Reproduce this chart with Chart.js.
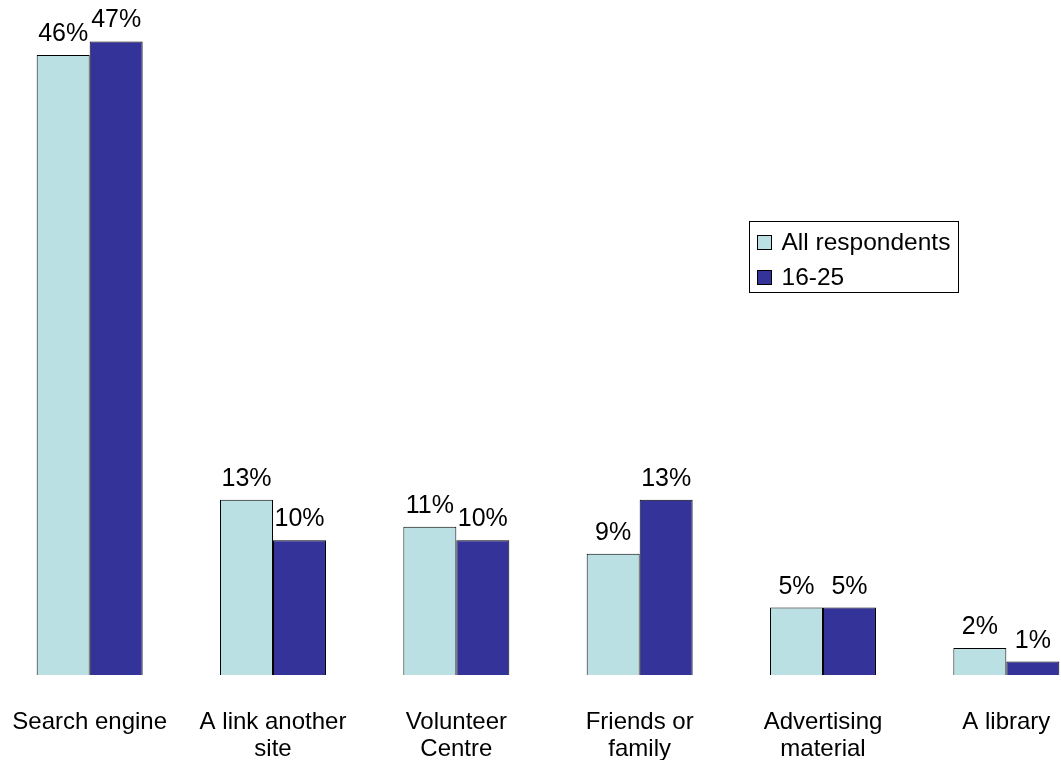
<!DOCTYPE html>
<html>
<head>
<meta charset="utf-8">
<script src="https://cdn.jsdelivr.net/npm/chart.js@4"></script>
<style>
  html, body { margin: 0; padding: 0; background: #fff; overflow: hidden; }
  #wrap { position: absolute; left: -2px; top: 0; width: 1100px; height: 760px; }
</style>
</head>
<body>
<div id="wrap"><canvas id="myChart" width="1100" height="760"></canvas></div>
<script>
// Data
const categories = [
  "Search engine",
  ["A link another", "site"],
  ["Volunteer", "Centre"],
  ["Friends or", "family"],
  ["Advertising", "material"],
  "A library",
];
const allRespondents = [46, 13, 11, 9, 5, 2];
const youngPeople = [47, 10, 10, 13, 5, 1];
const seriesNames = ["All respondents", "16-25"];
const seriesColors = ["#BBE0E3", "#333399"];

const FONT = "'Liberation Sans', Arial, Helvetica, sans-serif";

// value labels above the bars
const valueLabels = {
  id: "valueLabels",
  afterDatasetsDraw(chart) {
    const c = chart.ctx;
    c.save();
    c.font = `25px ${FONT}`;
    c.fillStyle = "#000";
    c.textAlign = "center";
    c.textBaseline = "alphabetic";
    chart.data.datasets.forEach((ds, d) => {
      chart.getDatasetMeta(d).data.forEach((bar, k) => {
        c.fillText(ds.data[k] + "%", bar.x, bar.y - 14);
      });
    });
    c.restore();
  },
};

// boxed legend on the right
const boxLegend = {
  id: "boxLegend",
  afterDraw(chart) {
    const c = chart.ctx;
    const x = 751.5, y = 221.5;
    c.save();
    c.strokeStyle = "#000";
    c.lineWidth = 1;
    c.strokeRect(x, y, 209, 71);
    c.font = `24.5px ${FONT}`;
    c.textBaseline = "alphabetic";
    chart.data.datasets.forEach((ds, d) => {
      const sy = y + 14 + d * 35;
      c.fillStyle = ds.backgroundColor;
      c.fillRect(x + 8, sy, 14, 14);
      c.strokeRect(x + 8, sy, 14, 14);
      c.fillStyle = "#000";
      c.fillText(ds.label, x + 32, sy + 14);
    });
    c.restore();
  },
};

const ctx = document.getElementById("myChart");

new Chart(ctx, {
  type: "bar",
  data: {
    labels: categories,
    datasets: [
      {
        label: seriesNames[0],
        data: allRespondents,
        backgroundColor: seriesColors[0],
        borderColor: "#000",
        borderWidth: 1,
      },
      {
        label: seriesNames[1],
        data: youngPeople,
        backgroundColor: seriesColors[1],
        borderColor: "#000",
        borderWidth: 1,
      },
    ],
  },
  options: {
    responsive: false,
    animation: false,
    categoryPercentage: 0.578,
    barPercentage: 1,
    layout: {
      padding: { top: 1, bottom: 0, left: 0, right: 0 },
    },
    plugins: {
      legend: { display: false },
      tooltip: { enabled: false },
    },
    scales: {
      y: {
        display: false,
        min: 0,
        max: 50,
      },
      x: {
        grid: { display: false, drawTicks: false },
        border: { display: false },
        ticks: {
          color: "#000",
          font: { family: FONT, size: 24, lineHeight: 1.12 },
          padding: 34,
          maxRotation: 0,
          autoSkip: false,
        },
        afterFit(scale) {
          // let the outer labels run to the edge, like the original
          scale.paddingLeft = 0;
          scale.paddingRight = 0;
          scale.height = 85;
        },
      },
    },
  },
  plugins: [valueLabels, boxLegend],
});
</script>
</body>
</html>
